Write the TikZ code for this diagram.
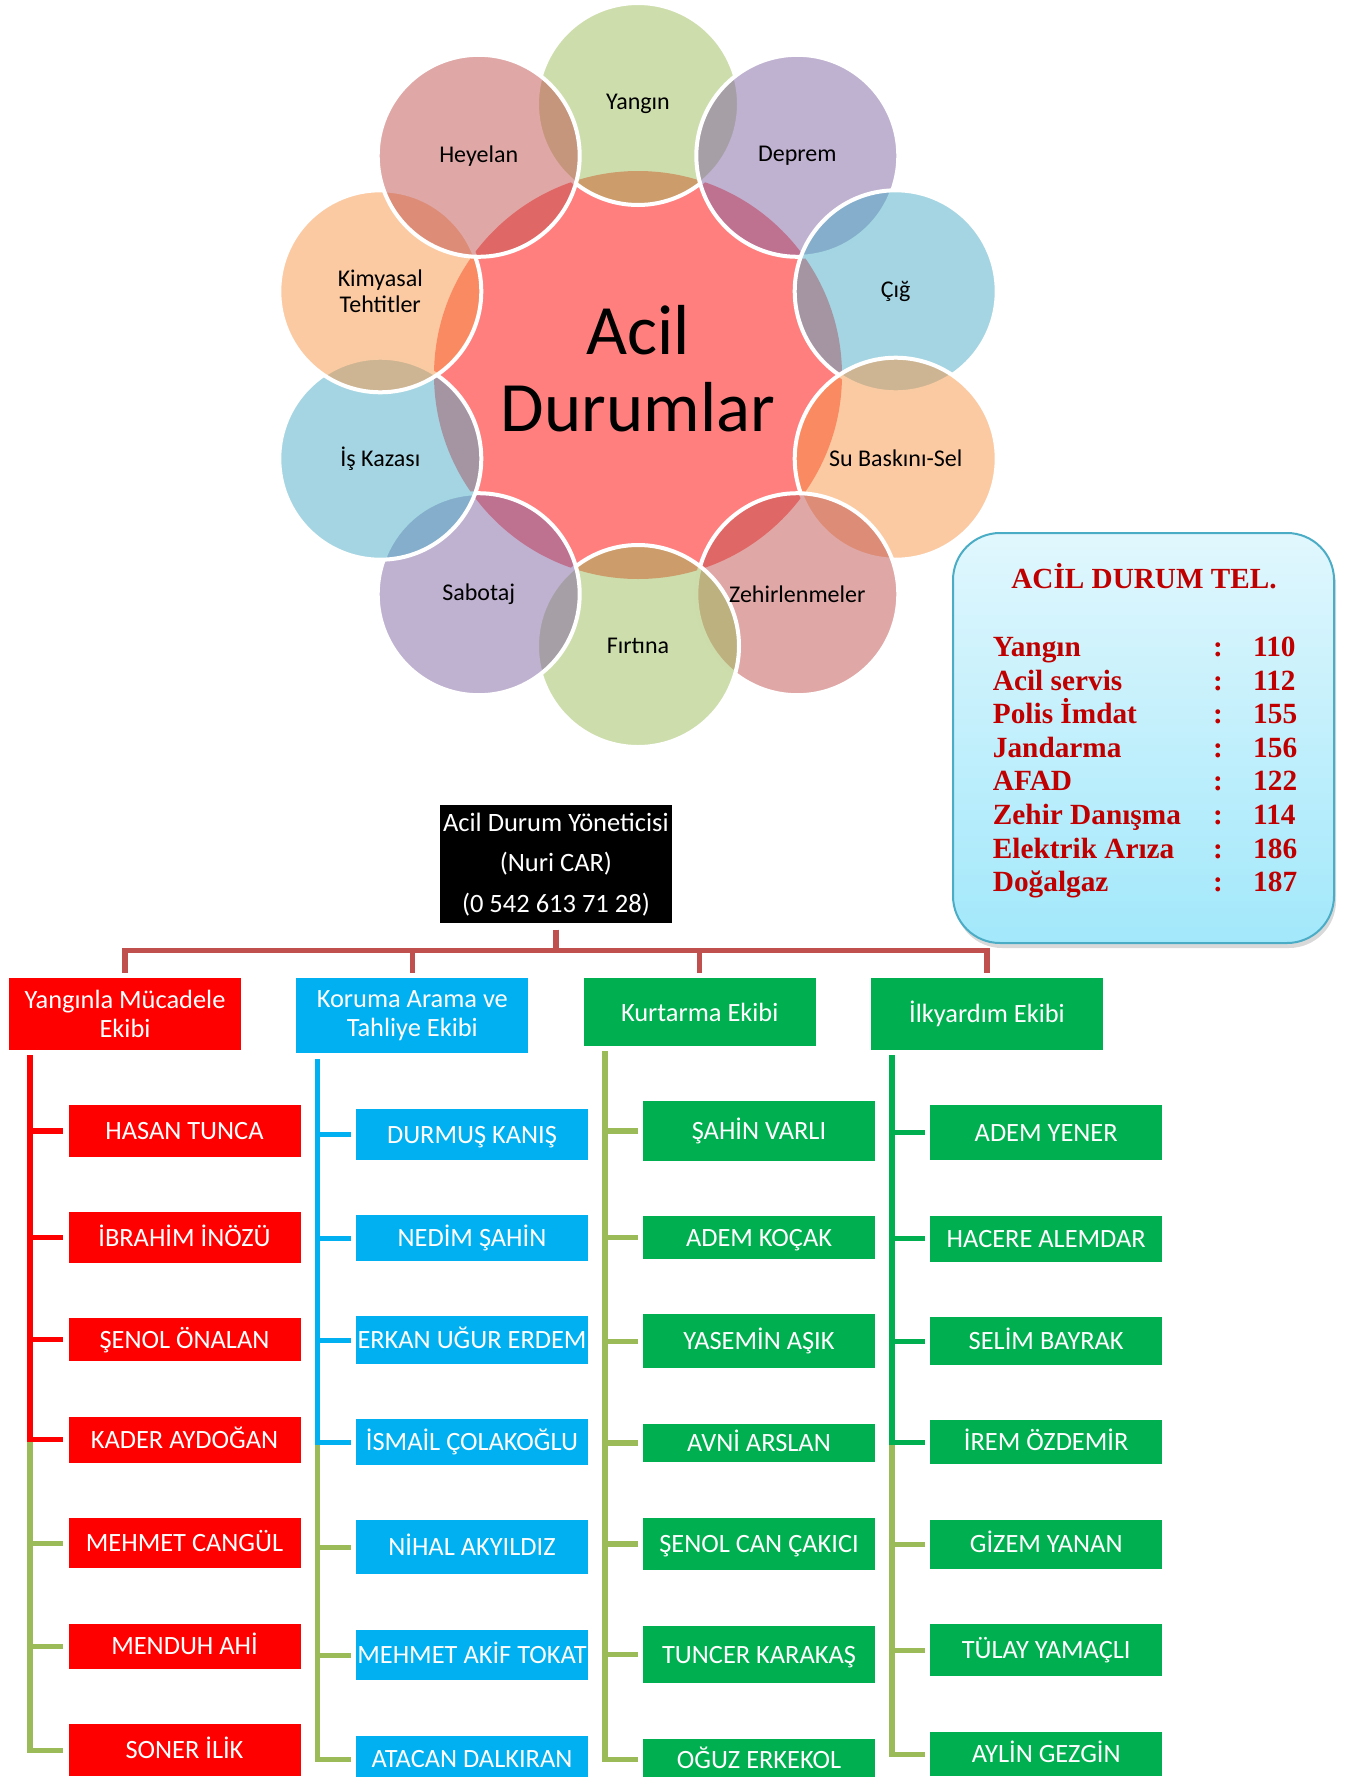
\documentclass[tikz,border=0pt]{standalone}
\usepackage{fontspec}
\setmainfont{Carlito}
\newfontfamily\tnr{Liberation Serif}
\usetikzlibrary{shadows}

\definecolor{accRed}{HTML}{C0504D}
\definecolor{accGreen}{HTML}{9BBB59}
\definecolor{accPurple}{HTML}{8064A2}
\definecolor{accAqua}{HTML}{4BACC6}
\definecolor{accOrange}{HTML}{F79646}
\definecolor{tRed}{HTML}{FF0000}
\definecolor{tBlue}{HTML}{00B0F0}
\definecolor{tGreen}{HTML}{00B050}
\definecolor{oliveLine}{HTML}{9BBB59}
\definecolor{darkRed}{HTML}{C00000}
\definecolor{boxTop}{HTML}{E1F7FD}
\definecolor{boxBot}{HTML}{A2E8FB}

\tikzset{
  petal/.style={circle, inner sep=0pt, minimum size=202pt, fill opacity=0.5, draw=white, line width=4pt},
  plabel/.style={inner sep=0pt, align=center, text=black, font=\fontsize{24}{26.4}\selectfont},
  hub/.style={circle, inner sep=0pt, minimum size=408pt, fill=red, fill opacity=0.5},
  hubtext/.style={inner sep=0pt, align=center, text=black, font=\fontsize{70.8}{77.6}\selectfont},
  mgrbox/.style={fill=black, text=white, inner sep=0pt, minimum width=231.7pt, minimum height=118.3pt, align=center, font=\fontsize{26.5}{40.5}\selectfont},
  teambox/.style={inner sep=0pt, minimum width=232pt, text=white, align=center, font=\fontsize{26.4}{28.7}\selectfont},
  mbox/.style={inner sep=0pt, minimum width=232pt, text=white, font=\fontsize{26.4}{29}\selectfont, text height=17pt, text depth=0pt},
  orgline/.style={draw=accRed, line width=5.3pt},
  spine/.style={line width=5.3pt},
  telbox/.style={draw=accAqua, line width=2pt, rounded corners=47pt, minimum width=381pt, minimum height=410pt, top color=boxTop, bottom color=boxBot, drop shadow={opacity=0.3, shadow xshift=2pt, shadow yshift=-5pt}},
  teltext/.style={inner sep=0pt, text=darkRed, font=\tnr\bfseries\fontsize{29.3}{33}\selectfont},
}

\begin{document}
\begin{tikzpicture}[x=1pt, y=-1pt]
\useasboundingbox (0,0) rectangle (1347,1777);

% ---------- radial diagram ----------
\node[hub] (hub) at (638,375) {};
\foreach \nm/\x/\y/\col in {p1/638/104/accGreen, p2/797.3/155.8/accPurple, p3/895.7/291.3/accAqua, p4/895.7/458.7/accOrange, p5/797.3/594.2/accRed, p6/638/646/accGreen, p7/478.7/594.2/accPurple, p8/380.3/458.7/accAqua, p9/380.3/291.3/accOrange, p10/478.7/155.8/accRed}
  \node[petal, fill=\col] (\nm) at (\x,\y) {};

\node[hubtext] (hubl) at ([yshift=6.3pt]hub.center) {Acil\\Durumlar};
\node[plabel] (l1) at (p1) {Yangın};
\node[plabel] (l2) at (p2) {Deprem};
\node[plabel] (l3) at (p3) {Çığ};
\node[plabel] (l4) at (p4) {Su Baskını-Sel};
\node[plabel] (l5) at (p5) {Zehirlenmeler};
\node[plabel] (l6) at (p6) {Fırtına};
\node[plabel] (l7) at (p7) {Sabotaj};
\node[plabel] (l8) at (p8) {İş Kazası};
\node[plabel] (l9) at (p9) {Kimyasal\\Tehtitler};
\node[plabel] (l10) at (p10) {Heyelan};

% ---------- emergency phone box ----------
\node[telbox] (tel) at (1143.5,738) {};
\node[teltext, font=\tnr\bfseries\fontsize{29.2}{32}\selectfont, anchor=base] (telhead) at (1144,588) {ACİL DURUM TEL.};
\foreach \lab/\num [count=\i from 0] in {Yangın/110, Acil servis/112, Polis İmdat/155, Jandarma/156, AFAD/122, Zehir Danışma/114, Elektrik Arıza/186, Doğalgaz/187} {
  \node[teltext, anchor=base west] (tl\i) at (992.7,{656.7+33.57*\i}) {\lab};
  \node[teltext, anchor=base] (tc\i) at (1218,{656.7+33.57*\i}) {:};
  \node[teltext, anchor=base west] (tn\i) at (1253,{656.7+33.57*\i}) {\num};
}

% ---------- organisation chart ----------
\node[mgrbox] (mgr) at (555.9,864.2) {Acil Durum Yöneticisi\\(Nuri CAR)\\(0 542 613 71 28)};

\node[teambox, fill=tRed, minimum height=71.4pt] (t1) at (125,1014) {Yangınla Mücadele\\Ekibi};
\node[teambox, fill=tBlue, minimum height=75pt] (t2) at (412.3,1015.8) {Koruma Arama ve\\Tahliye Ekibi};
\node[teambox, fill=tGreen, minimum height=67.4pt] (t3) at (699.7,1012) {Kurtarma Ekibi};
\node[teambox, fill=tGreen, minimum height=71.4pt] (t4) at (987,1014) {İlkyardım Ekibi};

\coordinate (barY) at (0,950.7);
\draw[orgline] ([yshift=-6pt]mgr.south) -- (mgr.south |- barY);
\draw[orgline] ([yshift=5.6pt]t1.north) |- (barY -| t4.north) -- ([yshift=5.6pt]t4.north);
\draw[orgline] (barY -| t2.north) -- ([yshift=5.6pt]t2.north);
\draw[orgline] (barY -| t3.north) -- ([yshift=5.6pt]t3.north);

% column 1
\node[mbox, fill=tRed, minimum height=52pt] (m1a) at (184.5,1131) {HASAN TUNCA};
\node[mbox, fill=tRed, minimum height=50.4pt] (m1b) at (184.5,1237.5) {İBRAHİM İNÖZÜ};
\node[mbox, fill=tRed, minimum height=43.3pt] (m1c) at (184.5,1339.7) {ŞENOL ÖNALAN};
\node[mbox, fill=tRed, minimum height=46pt] (m1d) at (184.5,1439.7) {KADER AYDOĞAN};
\node[mbox, fill=tRed, minimum height=50.3pt] (m1e) at (184.5,1543.2) {MEHMET CANGÜL};
\node[mbox, fill=tRed, minimum height=45.3pt] (m1f) at (184.5,1646.3) {MENDUH AHİ};
\node[mbox, fill=tRed, minimum height=51.7pt] (m1g) at (184.5,1750.2) {SONER İLİK};

% column 2
\node[mbox, fill=tBlue, minimum height=51pt] (m2a) at (472,1134.5) {DURMUŞ KANIŞ};
\node[mbox, fill=tBlue, minimum height=45.7pt] (m2b) at (472,1238.2) {NEDİM ŞAHİN};
\node[mbox, fill=tBlue, minimum height=47.7pt] (m2c) at (472,1340.2) {ERKAN UĞUR ERDEM};
\node[mbox, fill=tBlue, minimum height=45.7pt] (m2d) at (472,1442.2) {İSMAİL ÇOLAKOĞLU};
\node[mbox, fill=tBlue, minimum height=54pt] (m2e) at (472,1547.3) {NİHAL AKYILDIZ};
\node[mbox, fill=tBlue, minimum height=50.3pt] (m2f) at (472,1655.2) {MEHMET AKİF TOKAT};
\node[mbox, fill=tBlue, minimum height=47.2pt] (m2g) at (472,1759.3) {ATACAN DALKIRAN};

% column 3
\node[mbox, fill=tGreen, minimum height=59.7pt] (m3a) at (759,1130.9) {ŞAHİN VARLI};
\node[mbox, fill=tGreen, minimum height=43pt] (m3b) at (759,1237.5) {ADEM KOÇAK};
\node[mbox, fill=tGreen, minimum height=54pt] (m3c) at (759,1341.3) {YASEMİN AŞIK};
\node[mbox, fill=tGreen, minimum height=38.6pt] (m3d) at (759,1443) {AVNİ ARSLAN};
\node[mbox, fill=tGreen, minimum height=52.6pt] (m3e) at (759,1544) {ŞENOL CAN ÇAKICI};
\node[mbox, fill=tGreen, minimum height=57pt] (m3f) at (759,1654.5) {TUNCER KARAKAŞ};
\node[mbox, fill=tGreen, minimum height=42pt] (m3g) at (759,1759.7) {OĞUZ ERKEKOL};

% column 4
\node[mbox, fill=tGreen, minimum height=55.3pt] (m4a) at (1046.2,1132.7) {ADEM YENER};
\node[mbox, fill=tGreen, minimum height=46pt] (m4b) at (1046.2,1238.7) {HACERE ALEMDAR};
\node[mbox, fill=tGreen, minimum height=47.7pt] (m4c) at (1046.2,1341.2) {SELİM BAYRAK};
\node[mbox, fill=tGreen, minimum height=44pt] (m4d) at (1046.2,1442.3) {İREM ÖZDEMİR};
\node[mbox, fill=tGreen, minimum height=49pt] (m4e) at (1046.2,1544.2) {GİZEM YANAN};
\node[mbox, fill=tGreen, minimum height=52pt] (m4f) at (1046.2,1650.3) {TÜLAY YAMAÇLI};
\node[mbox, fill=tGreen, minimum height=43.7pt] (m4g) at (1046.2,1754.2) {AYLİN GEZGİN};

% spines
\coordinate (sp1) at (30,1055);
\coordinate (sp2) at (317.3,1059.3);
\coordinate (sp3) at (605,1051);
\coordinate (sp4) at (892,1055);

% column 1: red to KADER, olive below
\draw[spine, draw=oliveLine] (sp1 |- m1d.west) |- ([xshift=-5.3pt]m1g.west);
\foreach \n in {e,f} \draw[spine, draw=oliveLine] (sp1 |- m1\n.west) -- ([xshift=-5.3pt]m1\n.west);
\draw[spine, draw=tRed] (sp1) |- ([xshift=-5.3pt]m1d.west);
\foreach \n in {a,b,c} \draw[spine, draw=tRed] (sp1 |- m1\n.west) -- ([xshift=-5.3pt]m1\n.west);

% column 2: blue to ISMAIL, olive below
\draw[spine, draw=oliveLine] (sp2 |- m2d.west) |- ([xshift=-5.3pt]m2g.west);
\foreach \n in {e,f} \draw[spine, draw=oliveLine] (sp2 |- m2\n.west) -- ([xshift=-5.3pt]m2\n.west);
\draw[spine, draw=tBlue] (sp2) |- ([xshift=-5.3pt]m2d.west);
\foreach \n in {a,b,c} \draw[spine, draw=tBlue] (sp2 |- m2\n.west) -- ([xshift=-5.3pt]m2\n.west);

% column 3: all olive
\draw[spine, draw=oliveLine] (sp3) |- ([xshift=-5.3pt]m3g.west);
\foreach \n in {a,b,c,d,e,f} \draw[spine, draw=oliveLine] (sp3 |- m3\n.west) -- ([xshift=-5.3pt]m3\n.west);

% column 4: green to IREM, olive below
\draw[spine, draw=oliveLine] (sp4 |- m4d.west) |- ([xshift=-5.3pt]m4g.west);
\foreach \n in {e,f} \draw[spine, draw=oliveLine] (sp4 |- m4\n.west) -- ([xshift=-5.3pt]m4\n.west);
\draw[spine, draw=tGreen] (sp4) |- ([xshift=-5.3pt]m4d.west);
\foreach \n in {a,b,c} \draw[spine, draw=tGreen] (sp4 |- m4\n.west) -- ([xshift=-5.3pt]m4\n.west);

\end{tikzpicture}
\end{document}
